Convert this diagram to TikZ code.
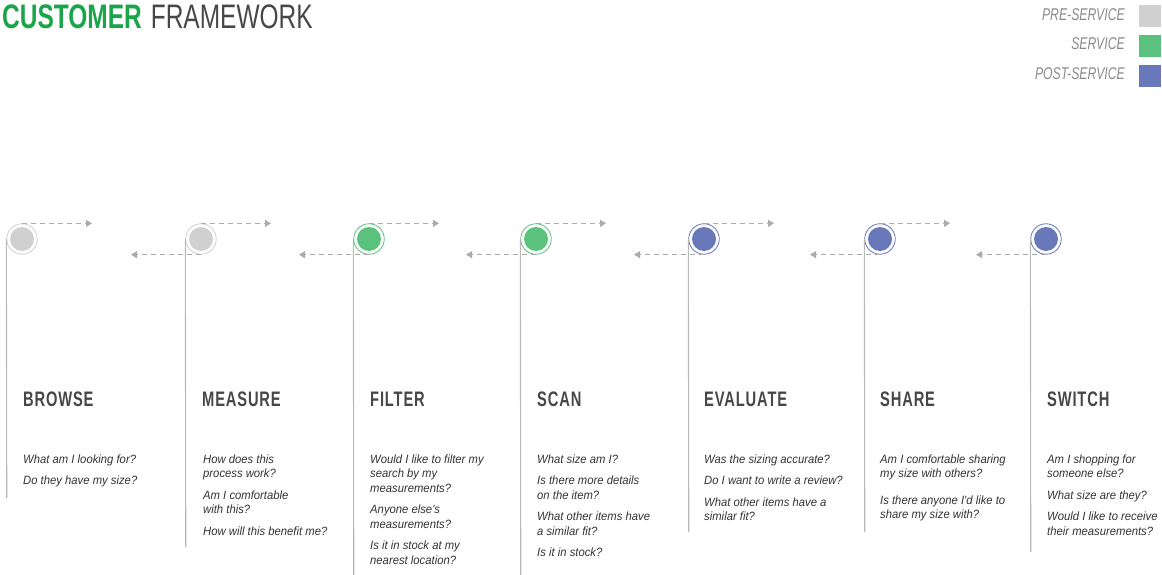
\documentclass[tikz,border=0pt]{standalone}
\usepackage{fontspec}
\setmainfont{Liberation Sans}
\newfontfamily\condfont[FakeStretch=0.72]{Liberation Sans}
\newfontfamily\headfont[FakeStretch=0.7,LetterSpace=4]{Liberation Sans}
\newfontfamily\askfont[FakeStretch=0.94]{Liberation Sans}
\usetikzlibrary{arrows.meta}
\definecolor{pregray}{HTML}{D0D0D0}
\definecolor{servgreen}{HTML}{5BC27D}
\definecolor{postblue}{HTML}{6878BB}
\definecolor{titlegreen}{HTML}{1AA54A}
\definecolor{inkgray}{HTML}{474747}
\definecolor{asktext}{HTML}{333333}
\definecolor{legendgray}{HTML}{8A8A8A}
\definecolor{dashgray}{HTML}{ABABAB}
\definecolor{railgray}{HTML}{B8B8B8}
\newcommand{\asklines}[1]{\begin{tabular}[t]{@{}l@{}}#1\end{tabular}}

\begin{document}
\begin{tikzpicture}[x=1pt, y=-1pt,
    stepdot/.style={circle, draw=#1, line width=0.8pt, inner sep=0pt, minimum size=30.5pt,
      path picture={\fill[#1] (path picture bounding box.center) circle (12pt);}},
    rail/.style={draw=railgray, line width=1.1pt},
    flow/.style={draw=dashgray, line width=0.9pt, dash pattern=on 5pt off 4pt,
      -{Triangle[length=6pt, width=7pt]}},
    heading/.style={anchor=base west, inner sep=0pt, text=inkgray,
      font=\headfont\bfseries\fontsize{21}{21}\selectfont},
    asks/.style={anchor=base west, inner sep=0pt, text=asktext,
      font=\askfont\itshape\fontsize{12}{14.5}\selectfont},
    legendtext/.style={anchor=base east, inner sep=0pt, text=legendgray,
      font=\condfont\itshape\fontsize{17}{17}\selectfont},
    swatch/.style={minimum size=22pt, inner sep=0pt}]
  \useasboundingbox (0,0) rectangle (1162,575);

  % title and legend
  \node[anchor=base west, inner sep=0pt, font=\condfont\fontsize{34}{34}\selectfont] (title) at (2,29)
    {\textcolor{titlegreen}{\bfseries CUSTOMER}\hspace{9pt}\textcolor{inkgray}{FRAMEWORK}};
  \node[legendtext] (lpre) at (1125,21) {PRE-SERVICE};
  \node[legendtext] (lserv) at (1125,50) {SERVICE};
  \node[legendtext] (lpost) at (1125,80) {POST-SERVICE};
  \node[swatch, fill=pregray] (spre) at (1150,16) {};
  \node[swatch, fill=servgreen] (sserv) at (1150,46) {};
  \node[swatch, fill=postblue] (spost) at (1150,76) {};

  % steps
  \node[stepdot=pregray] (b1) at (22,239) {};
  \node[stepdot=pregray] (b2) at (201,239) {};
  \node[stepdot=servgreen] (b3) at (369,239) {};
  \node[stepdot=servgreen] (b4) at (536,239) {};
  \node[stepdot=postblue] (b5) at (704,239) {};
  \node[stepdot=postblue] (b6) at (880,239) {};
  \node[stepdot=postblue] (b7) at (1046,239) {};

  % rails down from each step
  \coordinate (r1) at (6.75,498);
  \coordinate (r2) at (185.75,547);
  \coordinate (r3) at (353.75,575);
  \coordinate (r4) at (520.75,575);
  \coordinate (r5) at (688.75,532);
  \coordinate (r6) at (864.75,532);
  \coordinate (r7) at (1030.75,552);
  \draw[rail] (b1.west) -- (r1);
  \draw[rail] (b2.west) -- (r2);
  \draw[rail] (b3.west) -- (r3);
  \draw[rail] (b4.west) -- (r4);
  \draw[rail] (b5.west) -- (r5);
  \draw[rail] (b6.west) -- (r6);
  \draw[rail] (b7.west) -- (r7);

  % dashed forward / back arrows
  \path (b1.north) ++(70,0) coordinate (t1);
  \path (b2.north) ++(70,0) coordinate (t2);
  \path (b3.north) ++(70,0) coordinate (t3);
  \path (b4.north) ++(70,0) coordinate (t4);
  \path (b5.north) ++(70,0) coordinate (t5);
  \path (b6.north) ++(70,0) coordinate (t6);
  \draw[flow] (b1.north) -- (t1);
  \draw[flow] (b2.north) -- (t2);
  \draw[flow] (b3.north) -- (t3);
  \draw[flow] (b4.north) -- (t4);
  \draw[flow] (b5.north) -- (t5);
  \draw[flow] (b6.north) -- (t6);
  \path (b2.south) ++(-70,0) coordinate (k2);
  \path (b3.south) ++(-70,0) coordinate (k3);
  \path (b4.south) ++(-70,0) coordinate (k4);
  \path (b5.south) ++(-70,0) coordinate (k5);
  \path (b6.south) ++(-70,0) coordinate (k6);
  \path (b7.south) ++(-70,0) coordinate (k7);
  \draw[flow] (b2.south) -- (k2);
  \draw[flow] (b3.south) -- (k3);
  \draw[flow] (b4.south) -- (k4);
  \draw[flow] (b5.south) -- (k5);
  \draw[flow] (b6.south) -- (k6);
  \draw[flow] (b7.south) -- (k7);

  % headings
  \node[heading] (h1) at (23,406) {BROWSE};
  \node[heading] (h2) at (202,406) {MEASURE};
  \node[heading] (h3) at (370,406) {FILTER};
  \node[heading] (h4) at (537,406) {SCAN};
  \node[heading] (h5) at (704,406) {EVALUATE};
  \node[heading] (h6) at (880,406) {SHARE};
  \node[heading] (h7) at (1047,406) {SWITCH};

  % questions
  \node[asks] (q1) at (23,463) {\asklines{What am I looking for?\\[7pt]Do they have my size?}};
  \node[asks] (q2) at (203,463) {\asklines{How does this\\process work?\\[7pt]Am I comfortable\\with this?\\[7pt]How will this benefit me?}};
  \node[asks] (q3) at (370,463) {\asklines{Would I like to filter my\\search by my\\measurements?\\[7pt]Anyone else's\\measurements?\\[7pt]Is it in stock at my\\nearest location?}};
  \node[asks] (q4) at (537,463) {\asklines{What size am I?\\[7pt]Is there more details\\on the item?\\[7pt]What other items have\\a similar fit?\\[7pt]Is it in stock?}};
  \node[asks] (q5) at (704,463) {\asklines{Was the sizing accurate?\\[7pt]Do I want to write a review?\\[7pt]What other items have a\\similar fit?}};
  \node[asks] (q6) at (880,463) {\asklines{Am I comfortable sharing\\my size with others?\\[12pt]Is there anyone I'd like to\\share my size with?}};
  \node[asks] (q7) at (1047,463) {\asklines{Am I shopping for\\someone else?\\[7pt]What size are they?\\[7pt]Would I like to receive\\their measurements?}};
\end{tikzpicture}
\end{document}
